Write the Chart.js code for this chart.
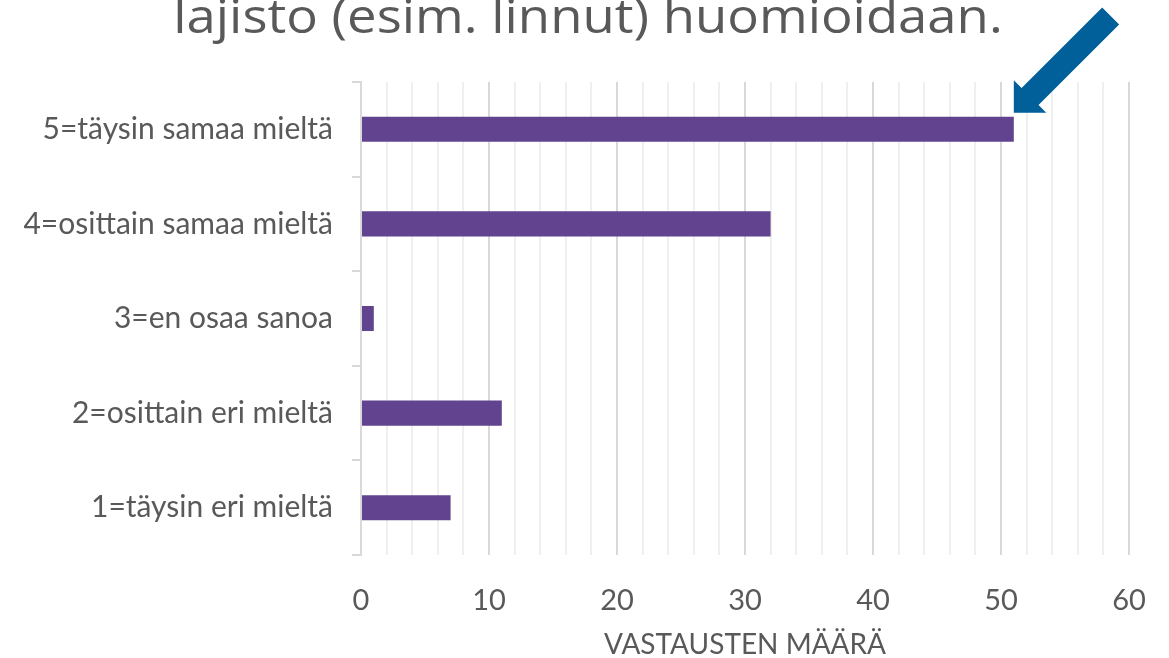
<!DOCTYPE html>
<html>
<head>
<meta charset="utf-8">
<script src="https://cdn.jsdelivr.net/npm/chart.js@4"></script>
<style>
  html, body { margin: 0; padding: 0; background: #fff; }
  #wrap { width: 1169px; height: 658px; position: relative; overflow: hidden; }
</style>
</head>
<body>
<div id="wrap"><canvas id="chart" width="1169" height="658"></canvas></div>
<script>
const titleText = "lajisto (esim. linnut) huomioidaan.";
const categories = [
  "5=täysin samaa mieltä",
  "4=osittain samaa mieltä",
  "3=en osaa sanoa",
  "2=osittain eri mieltä",
  "1=täysin eri mieltä",
];
const answerCounts = [51, 32, 1, 11, 7];
const axisTitle = "VASTAUSTEN MÄÄRÄ";
const xMin = 0;
const xMax = 60;
const arrowTarget = 0; // index of the bar the arrow points at

const textColor = "#595959";
const barColor = "#61438F";
const arrowColor = "#01609A";

// title is cut off by the top edge in the original picture
const titlePlugin = {
  id: "cutTitle",
  afterDraw(chart) {
    const ctx = chart.ctx;
    ctx.save();
    ctx.font = "47px 'Open Sans'";
    ctx.fillStyle = textColor;
    ctx.textAlign = "center";
    ctx.textBaseline = "alphabetic";
    ctx.translate(588, 33);
    ctx.scale(1.12, 1); // original font is wider
    ctx.fillText(titleText, 0, 0);
    ctx.restore();
  },
};

// thick blue arrow pointing at the end of the top bar
const arrowPlugin = {
  id: "arrow",
  afterDatasetsDraw(chart) {
    const bar = chart.getDatasetMeta(0).data[arrowTarget];
    const tipX = chart.scales.x.getPixelForValue(answerCounts[arrowTarget]);
    const tipY = bar.y - bar.height / 2 - 4;
    const ctx = chart.ctx;
    ctx.save();
    ctx.translate(tipX, tipY);
    ctx.rotate(-Math.PI / 4);
    ctx.beginPath();
    ctx.moveTo(0, 0);
    ctx.lineTo(23, -23);
    ctx.lineTo(23, -12);
    ctx.lineTo(137, -12);
    ctx.lineTo(137, 12);
    ctx.lineTo(23, 12);
    ctx.lineTo(23, 23);
    ctx.closePath();
    ctx.fillStyle = arrowColor;
    ctx.fill();
    ctx.restore();
  },
};

const chart = new Chart(document.getElementById("chart"), {
  type: "bar",
  data: {
    labels: categories,
    datasets: [
      {
        data: answerCounts,
        backgroundColor: barColor,
        borderWidth: 0,
        barPercentage: 0.265,
        categoryPercentage: 1,
      },
    ],
  },
  options: {
    indexAxis: "y",
    responsive: false,
    animation: false,
    layout: { padding: { top: 82, right: 40, left: 0, bottom: 0 } },
    plugins: {
      legend: { display: false },
      tooltip: { enabled: false },
    },
    scales: {
      x: {
        min: xMin,
        max: xMax,
        ticks: {
          stepSize: 2,
          autoSkip: false,
          maxRotation: 0,
          padding: 28,
          color: textColor,
          font: { family: "Lato", size: 29 },
          callback: (v) => (v % 10 === 0 ? v : ""),
        },
        grid: {
          drawTicks: false,
          lineWidth: 2,
          color: (c) => (c.tick && c.tick.value % 10 === 0 ? "#d9d9d9" : "#efefef"),
        },
        border: { display: false },
        title: {
          display: true,
          text: axisTitle,
          color: textColor,
          font: { family: "Lato", size: 28 },
          padding: { top: 2, bottom: -4 },
        },
        afterFit(scale) {
          scale.height = 103;
          // the tick padding would otherwise push the right edge inwards
          scale.paddingLeft = 0;
          scale.paddingRight = 0;
        },
      },
      y: {
        ticks: {
          padding: 19,
          color: textColor,
          font: { family: "Lato", size: 30 },
        },
        grid: {
          offset: true,
          drawOnChartArea: false,
          drawTicks: true,
          tickLength: 9,
          lineWidth: 2,
          color: "#d9d9d9",
        },
        border: { color: "#d9d9d9", width: 2 },
        afterFit(scale) {
          scale.width = 361;
        },
      },
    },
  },
  plugins: [titlePlugin, arrowPlugin],
});
</script>
</body>
</html>
